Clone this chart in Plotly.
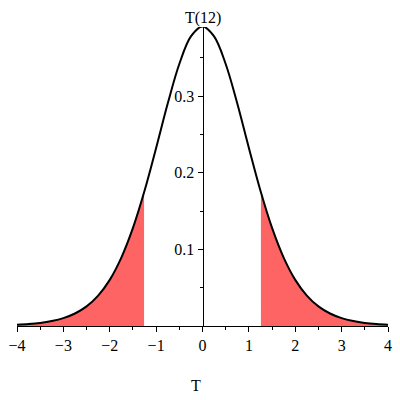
import plotly.graph_objects as go

# Student t density with 12 degrees of freedom
t_values = [-4.0, -3.75, -3.5, -3.25, -3.0, -2.75, -2.5, -2.25, -2.0, -1.75, -1.5, -1.25,
            -1.0, -0.75, -0.5, -0.25, 0.0, 0.25, 0.5, 0.75, 1.0, 1.25, 1.5, 1.75,
            2.0, 2.25, 2.5, 2.75, 3.0, 3.25, 3.5, 3.75, 4.0]
density = [0.0016, 0.0025, 0.0040, 0.0065, 0.0103, 0.0163, 0.0256, 0.0397, 0.0602, 0.0892, 0.1279, 0.1763,
           0.2322, 0.2901, 0.3417, 0.3777, 0.3907, 0.3777, 0.3417, 0.2901, 0.2322, 0.1763, 0.1279, 0.0892,
           0.0602, 0.0397, 0.0256, 0.0163, 0.0103, 0.0065, 0.0040, 0.0025, 0.0016]

# shaded tails
left_tail_t = [-4.0, -3.75, -3.5, -3.25, -3.0, -2.75, -2.5, -2.25, -2.0, -1.75, -1.5, -1.26]
left_tail_d = [0.0016, 0.0025, 0.0040, 0.0065, 0.0103, 0.0163, 0.0256, 0.0397, 0.0602, 0.0892, 0.1279, 0.1742]
right_tail_t = [1.26, 1.5, 1.75, 2.0, 2.25, 2.5, 2.75, 3.0, 3.25, 3.5, 3.75, 4.0]
right_tail_d = [0.1742, 0.1279, 0.0892, 0.0602, 0.0397, 0.0256, 0.0163, 0.0103, 0.0065, 0.0040, 0.0025, 0.0016]

x_ticks = [-4, -3, -2, -1, 0, 1, 2, 3, 4]
x_minor = [-3.5, -2.5, -1.5, -0.5, 0.5, 1.5, 2.5, 3.5]
y_ticks = [0.1, 0.2, 0.3]
y_tick_text = ["0.1", "0.2", "0.3"]
y_minor = [0.05, 0.15, 0.25, 0.35]

FONT = "Liberation Serif, Times New Roman, serif"
SHADE = "#FF6464"

fig = go.Figure()
for tx, ty in [(left_tail_t, left_tail_d), (right_tail_t, right_tail_d)]:
    fig.add_trace(go.Scatter(x=tx, y=ty, mode="lines", fill="tozeroy",
                             fillcolor=SHADE, line=dict(width=0, shape="spline", color=SHADE),
                             hoverinfo="skip", showlegend=False))
fig.add_trace(go.Scatter(x=t_values, y=density, mode="lines",
                         line=dict(color="black", width=2, shape="spline"),
                         cliponaxis=False, showlegend=False))

fig.update_layout(
    width=400, height=400,
    margin=dict(l=17, r=12, t=27, b=74),
    paper_bgcolor="white", plot_bgcolor="white",
    font=dict(family=FONT, size=16, color="black"),
    xaxis=dict(range=[-4, 4], showgrid=False, zeroline=False, automargin=False,
               showline=True, linecolor="black", linewidth=1,
               tickmode="array", tickvals=x_ticks,
               ticks="outside", ticklen=5, tickcolor="black", tickwidth=1,
               minor=dict(tickmode="array", tickvals=x_minor, ticks="outside",
                          ticklen=3, tickcolor="black"),
               tickfont=dict(family=FONT, size=16, color="black")),
    yaxis=dict(range=[0, 0.39], showgrid=False, zeroline=False, automargin=False,
               anchor="free", position=0.5,
               showline=True, linecolor="black", linewidth=1,
               tickmode="array", tickvals=y_ticks, ticktext=y_tick_text,
               ticks="outside", ticklen=5, tickcolor="black", tickwidth=1,
               minor=dict(tickmode="array", tickvals=y_minor, ticks="outside",
                          ticklen=3, tickcolor="black"),
               tickfont=dict(family=FONT, size=16, color="black")),
    annotations=[
        dict(text="T(12)", x=0, xref="x", y=1, yref="paper", yanchor="bottom",
             xanchor="center", showarrow=False, yshift=-2,
             font=dict(family=FONT, size=16, color="black")),
        dict(text="T", x=-0.13, xref="x", y=-0.2, yref="paper", yanchor="middle",
             xanchor="center", showarrow=False,
             font=dict(family=FONT, size=16, color="black")),
    ],
)

fig.write_html("out.html", config={"displayModeBar": False},
               post_script="document.body.style.margin='0';document.body.style.padding='0';")
